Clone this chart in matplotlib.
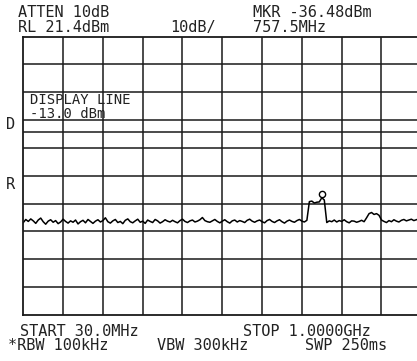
import numpy as np
import matplotlib.pyplot as plt
from matplotlib import transforms

# analyzer settings
start_mhz = 30.0
stop_mhz = 1000.0
ref_level = 21.4
db_per_div = 10
display_line = -13.0
marker_mhz = 757.5
marker_dbm = -36.48

# trace, dBm, 161 points across the sweep
trace = [
    -45.4, -44.3, -45.0, -44.1, -44.8, -45.7, -44.5, -43.8, -45.1, -46.0,
    -44.9, -44.4, -45.3, -44.7, -45.8, -45.2, -44.2, -45.0, -45.6, -44.8,
    -45.3, -44.5, -45.9, -45.1, -44.6, -45.5, -44.3, -45.0, -45.7, -44.9,
    -44.4, -45.2, -44.7, -43.7, -45.1, -45.6, -44.8, -44.3, -45.4, -45.0,
    -45.8, -44.6, -44.1, -45.1, -45.5, -44.8, -44.2, -45.3, -44.9, -45.7,
    -44.5, -45.0, -45.4, -44.3, -44.8, -45.6, -45.1, -44.4, -44.9, -45.2,
    -44.6, -45.1, -45.5, -44.7, -44.2, -45.0, -45.4, -44.8, -44.5, -45.2,
    -44.9, -44.4, -43.6, -44.7, -45.1, -45.3, -44.8, -44.3, -45.0, -45.5,
    -44.9, -44.4, -45.1, -45.6, -44.8, -44.5, -45.2, -44.7, -45.0, -45.4,
    -44.6, -44.2, -44.9, -45.3, -44.8, -44.5, -45.1, -45.5, -44.7, -44.3,
    -45.0, -45.4, -44.8, -44.4, -45.1, -45.6, -44.9, -44.5, -45.0, -45.3,
    -44.7, -44.3, -44.9, -45.2, -44.6,
    -37.9, -37.7, -38.4, -38.1, -38.0, -36.5, -37.3,
    -45.4, -44.8, -45.1, -44.5, -45.2, -44.7, -45.0, -44.4, -45.1, -45.5,
    -44.8, -44.9, -45.3, -45.0, -44.6, -45.1,
    -43.7, -42.2, -41.8, -42.5, -42.2, -42.8,
    -44.5, -45.0, -45.4, -44.7, -45.1, -44.4, -44.9, -45.2, -44.6, -44.3,
    -44.8, -44.5, -44.2, -44.7, -44.4, -44.1, -44.5,
]

header_left = ["ATTEN 10dB", "RL 21.4dBm"]
header_mid = "10dB/"
header_right = ["MKR -36.48dBm", "757.5MHz"]
footer = [("START 30.0MHz", 20, 336), ("STOP 1.0000GHz", 243, 336),
          ("*RBW 100kHz", 8, 350), ("VBW 300kHz", 157, 350),
          ("SWP 250ms", 305, 350)]

W, H = 417, 361
fig = plt.figure(figsize=(W / 100, H / 100), dpi=100)
fig.patch.set_facecolor('white')

# graticule box, right edge runs off the picture like the screen dump
left_px, top_px, right_px, bot_px = 23.3, 36.5, 421.3, 315.0
ax = fig.add_axes([left_px / W, 1 - bot_px / H,
                   (right_px - left_px) / W, (bot_px - top_px) / H])

bottom_level = ref_level - 10 * db_per_div
freqs = np.linspace(start_mhz, stop_mhz, len(trace))

ink = '#1a1a1a'
for k in range(1, 10):
    ax.axvline(start_mhz + k * (stop_mhz - start_mhz) / 10, color=ink, lw=1.1)
    ax.axhline(ref_level - k * db_per_div, color=ink, lw=1.1)
ax.axhline(display_line, color=ink, lw=1.1)

ax.plot(freqs, trace, color='black', lw=1.1)

off = transforms.offset_copy(ax.transData, fig=fig, x=0, y=4, units='dots')
ax.plot([marker_mhz], [marker_dbm], 'o', ms=4.5, mfc='white', mec='black',
        mew=1.0, transform=off)

ax.set_xlim(start_mhz, stop_mhz)
ax.set_ylim(bottom_level, ref_level)
ax.set_xticks([])
ax.set_yticks([])
for s in ax.spines.values():
    s.set_color(ink)
    s.set_linewidth(1.3)


def label(txt, x, y, size=11):
    fig.text(x / W, 1 - y / H, txt, family='DejaVu Sans Mono', fontsize=size,
             color='#222222', ha='left', va='baseline')


label(header_left[0], 18, 17.3)
label(header_left[1], 18, 31.7)
label(header_mid, 170, 31.7)
label(header_right[0], 253, 17.3)
label(header_right[1], 253, 31.7)
label("DISPLAY LINE", 30, 103.5, size=10)
label("-13.0 dBm", 30, 117.5, size=10)
label("D", 6, 128.5)
label("R", 6, 189)
for txt, x, y in footer:
    label(txt, x, y)

fig.savefig('out.png', dpi=100)
